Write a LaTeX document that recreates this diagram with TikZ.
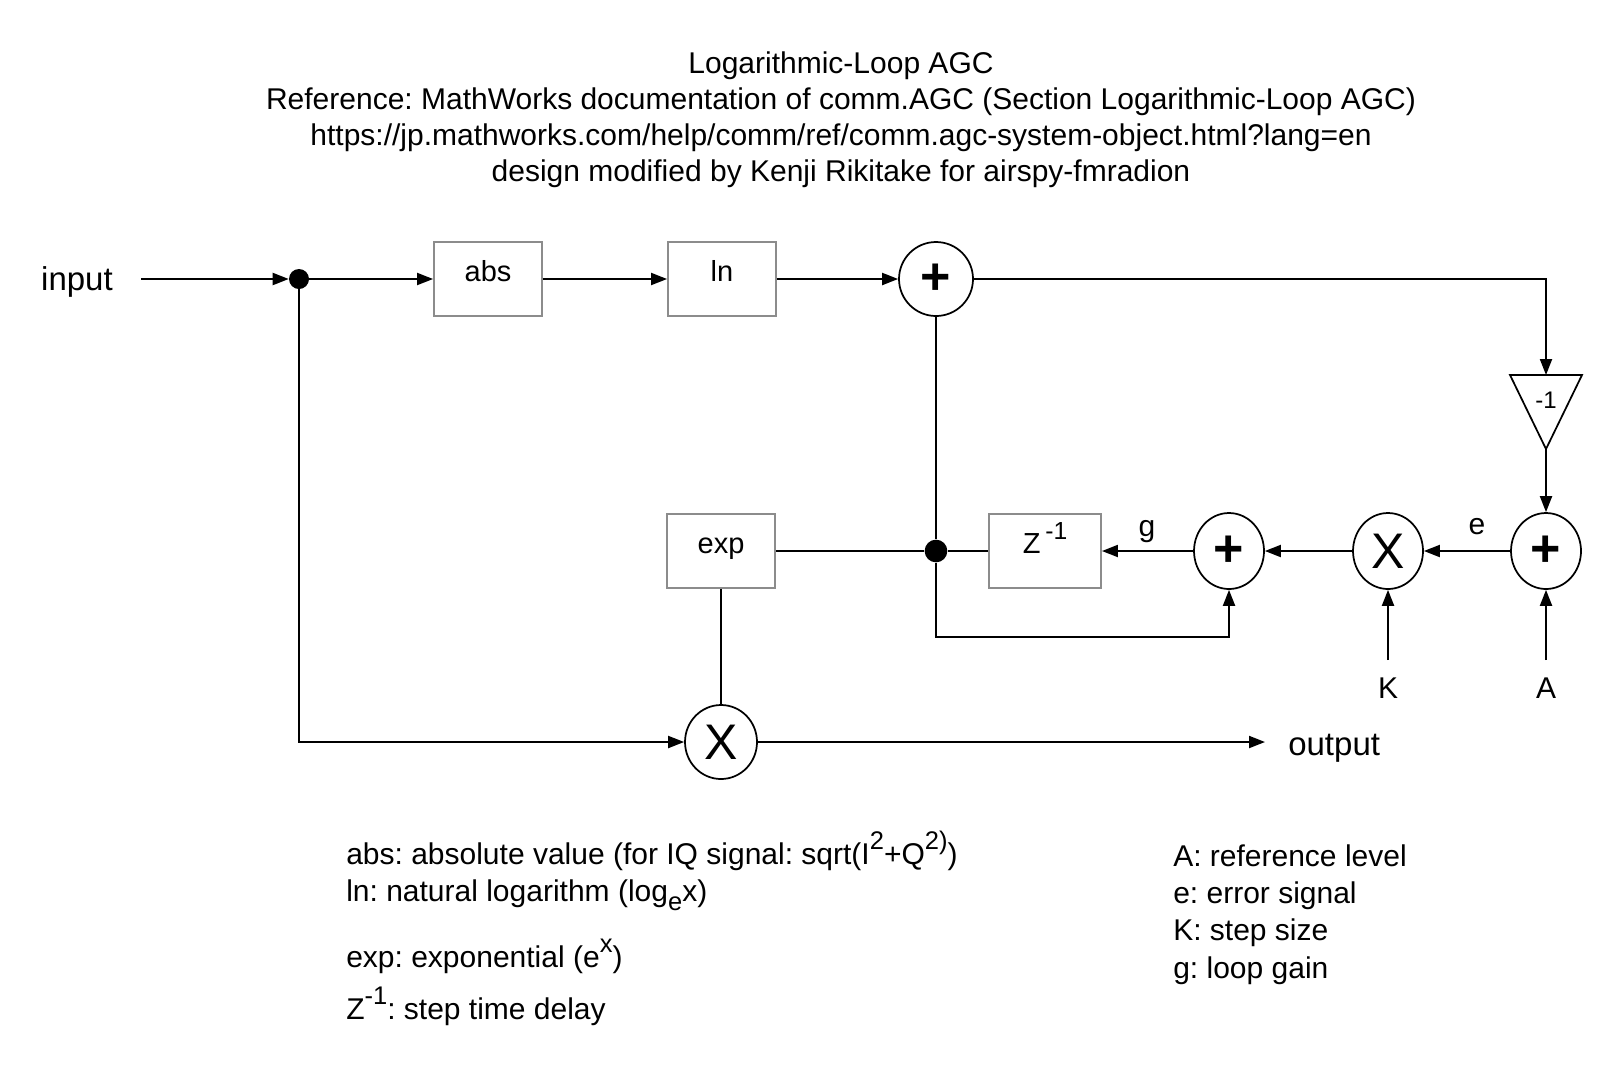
\documentclass[tikz,border=0pt]{standalone}
\usepackage{graphicx}
\usepackage{fontspec}
\setmainfont{Liberation Sans}
\usetikzlibrary{shapes.geometric,arrows.meta}
\frenchspacing
\newcommand{\pxf}[1]{\fontsize{\dimexpr #1pt*3/4\relax}{\dimexpr #1pt*9/10\relax}\selectfont}
\newcommand{\sps}[1]{\raisebox{0.5em}{\scalebox{0.85}{#1}}}
\newcommand{\sbs}[1]{\raisebox{-0.3em}{\scalebox{0.85}{#1}}}
\tikzset{
  wire/.style={line width=1.5pt},
  arr/.style={wire,-{Triangle[length=12pt,width=9pt]}},
  blk/.style={draw=black!45, line width=1.4pt, minimum width=81pt, minimum height=55.5pt,
    inner sep=0pt, font=\pxf{29}, text height=0.75em, text depth=0.35em},
  op/.style={ellipse, draw, line width=1.3pt, inner sep=0pt, minimum width=52.5pt, minimum height=57pt},
  plus/.style={op, font=\pxf{52}\bfseries},
  times/.style={op, font=\pxf{50}},
  jdot/.style={circle, fill, inner sep=0pt, minimum size=15pt},
  lbl/.style={font=\pxf{30}, inner sep=0pt},
  io/.style={font=\pxf{33}, inner sep=0pt},
}
\begin{document}
\begin{tikzpicture}[x=0.75pt,y=-0.75pt]
\useasboundingbox (0,0) rectangle (1616,1068);
% title
\node[lbl, anchor=base] (t1) at (841,73) {Logarithmic-Loop AGC};
\node[lbl, anchor=base] (t2) at (841,109) {Reference: MathWorks documentation of comm.AGC (Section Logarithmic-Loop AGC)};
\node[lbl, anchor=base] (t3) at (841,145) {https://jp.mathworks.com/help/comm/ref/comm.agc-system-object.html?lang=en};
\node[lbl, anchor=base] (t4) at (841,181) {design modified by Kenji Rikitake for airspy-fmradion};
% top row
\node[io, anchor=base] (in) at (77,290) {input};
\coordinate (inS) at (141,279);
\node[jdot] (d1) at (299,279) {};
\node[blk] (abs) at (488,279) {abs};
\node[blk] (ln) at (722,279) {ln};
\node[plus, minimum width=55.5pt, minimum height=55.5pt] (s1) at (936,279) {+};
% inverter triangle
\coordinate (triT) at (1546,375);
\coordinate (triA) at (1546,449);
\draw[line width=1.3pt] (1510,375) -- (1582,375) -- (triA) -- cycle;
\node[font=\pxf{24}, inner sep=0pt] (neg) at (1546,400) {-1};
% middle row
\node[plus] (s3) at (1546,551) {+};
\node[times] (m1) at (1388,551) {X};
\node[plus] (s2) at (1229,551) {+};
\node[blk, minimum width=84pt] (z) at (1045,551) {Z\,\sps{-1}};
\node[jdot, minimum width=14pt, minimum height=17pt] (d2) at (936,551) {};
\node[blk] (exp) at (721,551) {exp};
\node[lbl, anchor=base] (g) at (1147,536) {g};
\node[lbl, anchor=base] (e) at (1477,534) {e};
\coordinate (kS) at (1388,660);
\coordinate (aS) at (1546,660);
\node[lbl, anchor=base] (K) at (1388,698) {K};
\node[lbl, anchor=base] (A) at (1546,698) {A};
% output row
\node[times, minimum width=54pt, minimum height=55.5pt] (m2) at (721,742) {X};
\coordinate (outE) at (1265,742);
\node[io, anchor=base west] (out) at (1288,755) {output};
% connectors
\draw[arr] (inS) -- (d1.west);
\draw[arr] (d1) -- (abs.west);
\draw[arr] (abs) -- (ln.west);
\draw[arr] (ln) -- (s1.west);
\draw[arr] (s1.east) -| (triT);
\draw[arr] (triA) -- (s3.north);
\draw[arr] (s3.west) -- (m1.east);
\draw[arr] (m1.west) -- (s2.east);
\draw[arr] (s2.west) -- (z.east);
\draw[wire] (z.west) -- (d2) -- (exp.east);
\draw[wire] (s1.south) -- (d2);
\draw[arr] (d2) -- ++(0,86) -| (s2.south);
\draw[arr] (kS) -- (m1.south);
\draw[arr] (aS) -- (s3.south);
\draw[wire] (exp.south) -- (m2.north);
\draw[arr] (d1) |- (m2.west);
\draw[arr] (m2.east) -- (outE);
% notes
\node[lbl, anchor=base west] (n1) at (346,864) {abs: absolute value (for IQ signal: sqrt(I\sps{2}+Q\sps{2)})};
\node[lbl, anchor=base west] (n2) at (346,901) {ln: natural logarithm (log\sbs{e}x)};
\node[lbl, anchor=base west] (n3) at (346,967) {exp: exponential (e\sps{x})};
\node[lbl, anchor=base west] (n4) at (346,1019) {Z\sps{-1}: step time delay};
\node[lbl, anchor=base west] (r1) at (1173,866) {A: reference level};
\node[lbl, anchor=base west] (r2) at (1173,903) {e: error signal};
\node[lbl, anchor=base west] (r3) at (1173,940) {K: step size};
\node[lbl, anchor=base west] (r4) at (1173,978) {g: loop gain};
\end{tikzpicture}
\end{document}
